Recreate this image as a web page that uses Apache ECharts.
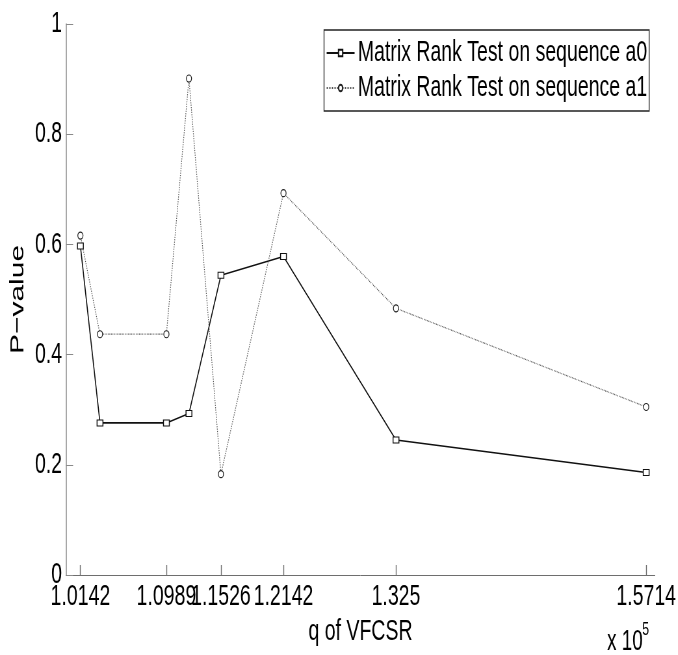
<!DOCTYPE html>
<html>
<head>
<meta charset="utf-8">
<script src="https://cdn.jsdelivr.net/npm/echarts@6/dist/echarts.min.js"></script>
<style>
  html, body { margin: 0; padding: 0; background: #fff; overflow: hidden; }
  #wrap { width: 678px; height: 655px; overflow: hidden; }
  /* the original figure is squeezed horizontally, so draw wide and scale down */
  #chart { width: 1043px; height: 655px; transform: scaleX(0.65); transform-origin: 0 0; }
</style>
</head>
<body>
<div id="wrap"><div id="chart"></div></div>
<script>
// q of VFCSR (in units of 1e5) and the matrix rank test p-values
const qValues = [1.0142, 1.0335, 1.0989, 1.1211, 1.15261, 1.2142, 1.325, 1.5714];
const pA0 = [0.597, 0.276, 0.276, 0.293, 0.544, 0.578, 0.245, 0.186];
const pA1 = [0.616, 0.437, 0.437, 0.901, 0.183, 0.693, 0.484, 0.305];

const xTicks = [1.0142, 1.0989, 1.15261, 1.2142, 1.325, 1.5714];
const xTickLabels = ["1.0142", "1.0989", "1.1526", "1.2142", "1.325", "1.5714"];
const yTickLabels = ["0", "0.2", "0.4", "0.6", "0.8", "1"];

const FONT = "'Liberation Sans', Arial, Helvetica, sans-serif";
const axisColor = "#6e6e6e";

const chart = echarts.init(document.getElementById("chart"), null, { renderer: "canvas" });

const option = {
  animation: false,
  backgroundColor: "#fff",
  textStyle: { fontFamily: FONT },
  grid: { left: 101.5, right: 35.4, top: 24, bottom: 80, containLabel: false },
  legend: {
    orient: "vertical",
    left: 498.5,
    top: 30,
    padding: [8, 3, 8, 3],
    itemWidth: 43,
    itemHeight: 8,
    itemGap: 5,
    backgroundColor: "#fff",
    borderColor: "#222",
    borderWidth: 1.3,
    textStyle: { fontFamily: FONT, fontSize: 30, lineHeight: 30, color: "#000" },
    data: ["Matrix Rank Test on sequence a0", "Matrix Rank Test on sequence a1"],
  },
  xAxis: {
    type: "value",
    min: 1.0,
    max: 1.58,
    name: "q of VFCSR",
    nameLocation: "middle",
    nameGap: 40,
    nameTextStyle: { fontFamily: FONT, fontSize: 30, color: "#000" },
    axisLine: { lineStyle: { color: axisColor, width: 1 } },
    axisTick: { inside: true, length: 10, customValues: xTicks, lineStyle: { color: axisColor, width: 1.4 } },
    axisLabel: {
      customValues: xTicks,
      fontFamily: FONT,
      fontSize: 30,
      color: "#000",
      margin: 7,
      formatter: (v) => {
        const i = xTicks.findIndex((t) => Math.abs(t - v) < 1e-6);
        return i >= 0 ? xTickLabels[i] : "";
      },
    },
    splitLine: { show: false },
  },
  yAxis: {
    type: "value",
    min: 0,
    max: 1,
    interval: 0.2,
    name: "P\u2212value",
    nameLocation: "middle",
    nameRotate: 90,
    nameGap: 56,
    nameTextStyle: { fontFamily: FONT, fontSize: 30, color: "#000" },
    axisLine: { show: true, lineStyle: { color: "#8a8a8a", width: 1.5 } },
    axisTick: { show: true, inside: true, length: 11, lineStyle: { color: "#8a8a8a" } },
    axisLabel: {
      fontFamily: FONT,
      fontSize: 30,
      color: "#000",
      margin: 6,
      formatter: (v) => yTickLabels[Math.round(v / 0.2)],
    },
    splitLine: { show: false },
  },
  graphic: [
    { type: "text", left: 934, top: 627, style: { text: "x 10", font: "29px " + FONT, fill: "#000" } },
    { type: "text", left: 988, top: 620, style: { text: "5", font: "19px " + FONT, fill: "#000" } },
  ],
  series: [
    {
      name: "Matrix Rank Test on sequence a0",
      type: "line",
      data: qValues.map((q, i) => [q, pA0[i]]),
      symbol: "rect",
      symbolSize: [9, 6],
      lineStyle: { color: "#111", width: 1.6, type: "solid" },
      itemStyle: { color: "#fff", borderColor: "#111", borderWidth: 1.2 },
    },
    {
      name: "Matrix Rank Test on sequence a1",
      type: "line",
      data: qValues.map((q, i) => [q, pA1[i]]),
      symbol: "circle",
      symbolSize: [8, 7],
      lineStyle: { color: "#555", width: 1.2, type: "dotted" },
      itemStyle: { color: "#fff", borderColor: "#222", borderWidth: 1.2 },
    },
  ],
};

chart.setOption(option);
</script>
</body>
</html>
